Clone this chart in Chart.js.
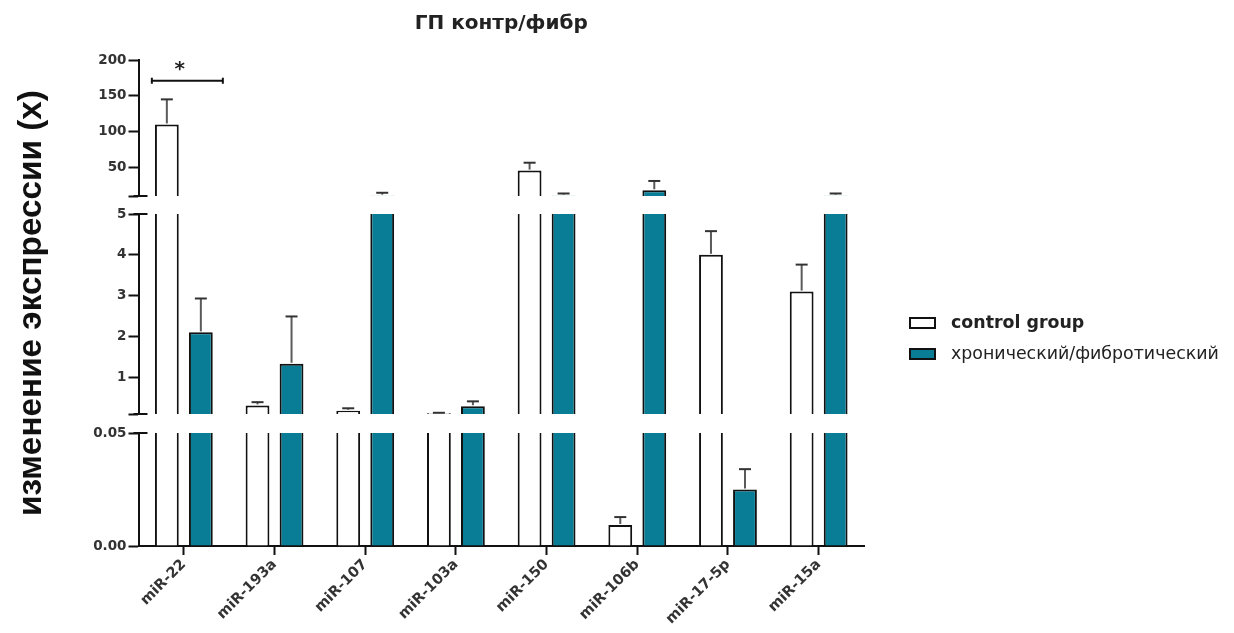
<!DOCTYPE html>
<html>
<head>
<meta charset="utf-8">
<script src="https://cdn.jsdelivr.net/npm/chart.js@4.4.1/dist/chart.umd.min.js"></script>
<style>
  html, body { margin: 0; padding: 0; background: #fff; }
  #wrap { width: 1234px; height: 633px; position: relative; }
</style>
</head>
<body>
<div id="wrap"><canvas id="c" width="1234" height="633"></canvas></div>
<script>
// miRNA panel: fold change of expression, control vs chronic/fibrotic
const categories = ['miR-22', 'miR-193a', 'miR-107', 'miR-103a', 'miR-150', 'miR-106b', 'miR-17-5p', 'miR-15a'];
const seriesNames = ['control group', 'хронический/фибротический'];
const controlMean = [110, 0.31, 0.18, 0.12, 45.5, 0.0093, 4.0, 3.1];
const controlSD   = [35, 0.08, 0.06, 0.01, 11, 0.0035, 0.58, 0.66];
const fibroMean   = [2.1, 1.33, 10.5, 0.29, 10.5, 18, 0.025, 10.5];
const fibroSD     = [0.83, 1.16, 4, 0.12, 3, 13, 0.009, 3];
const topTicks = [10, 50, 100, 150, 200];
const midTicks = [0.1, 1, 2, 3, 4, 5];
const lowTicks = [0, 0.05];
const sigLevel = 171;           // height of the miR-22 significance bracket
const sigText = '*';
const chartTitle = 'ГП контр/фибр';
const yTitle = 'изменение экспрессии (x)';

const means = [controlMean, fibroMean];
const sds = [controlSD, fibroSD];
const fills = ['#ffffff', '#087d95'];
const INK = '#111';
const AXIS_W = 56;

// broken value axis: three segments, top to bottom
const segments = [
  { id: 'yTop', min: 10,  max: 200,  ticks: topTicks, weight: 136, fmt: v => String(v) },
  { id: 'yMid', min: 0.1, max: 5,    ticks: midTicks, weight: 200, fmt: v => String(v) },
  { id: 'yLow', min: 0,   max: 0.05, ticks: lowTicks, weight: 113, fmt: v => v.toFixed(2) }
];
const gaps = [ { id: 'gap1', weight: 18 }, { id: 'gap2', weight: 19 } ];

Chart.defaults.font.family = '"DejaVu Sans", sans-serif';

function segmentData(values, seg) {
  return values.map(v => v > seg.min ? [seg.min, Math.min(v, seg.max)] : null);
}

const datasets = [];
means.forEach((vals, s) => {
  segments.forEach(seg => {
    datasets.push({
      label: seriesNames[s],
      data: segmentData(vals, seg),
      yAxisID: seg.id,
      stack: 's' + s,
      backgroundColor: fills[s],
      borderColor: INK,
      borderSkipped: false,
      borderWidth: ctx => ({ left: 2, right: 2, bottom: 0, top: vals[ctx.dataIndex] > seg.max ? 0 : 2 }),
      categoryPercentage: 0.75,
      barPercentage: 0.7
    });
  });
});

function valueAxis(seg) {
  return {
    type: 'linear', position: 'left', stack: 'v', stackWeight: seg.weight,
    stacked: false, min: seg.min, max: seg.max,
    afterBuildTicks: sc => { sc.ticks = seg.ticks.map(v => ({ value: v })); },
    afterFit: sc => { sc.width = AXIS_W; },
    grid: { drawOnChartArea: false, tickLength: 10, tickWidth: 2, tickColor: INK },
    border: { display: true, width: 2, color: INK },
    ticks: {
      padding: 2, color: '#333', font: { size: 13.5, weight: 'bold' },
      // the lower end of the two upper segments is a break, left unlabeled
      callback: v => (seg.id !== 'yLow' && v === seg.min) ? '' : seg.fmt(v)
    }
  };
}
function gapAxis(g) {
  return {
    type: 'linear', position: 'left', stack: 'v', stackWeight: g.weight, stacked: false,
    afterFit: sc => { sc.width = AXIS_W; },
    grid: { display: false }, border: { display: false }, ticks: { display: false }
  };
}

// stacked left axes are laid out last-defined first, so list them bottom-up
const scales = {
  x: {
    type: 'category', labels: categories, offset: true,
    afterFit: sc => { sc.height = 87; },
    grid: { drawOnChartArea: false, offset: false, tickLength: 9, tickWidth: 2, tickColor: INK },
    border: { display: true, width: 2, color: INK },
    ticks: { autoSkip: false, maxRotation: 45, minRotation: 45, padding: 1, color: '#333', font: { size: 14.5, weight: 'bold' } }
  },
  yLow: valueAxis(segments[2]),
  gap2: gapAxis(gaps[1]),
  yMid: valueAxis(segments[1]),
  gap1: gapAxis(gaps[0]),
  yTop: valueAxis(segments[0])
};

// one-sided SD whiskers, split across the axis segments
const errorBars = {
  id: 'errorBars',
  afterDatasetsDraw(chart) {
    const ctx = chart.ctx;
    ctx.save();
    means.forEach((vals, s) => {
      const meta = chart.getDatasetMeta(s * segments.length + segments.length - 1);
      vals.forEach((v, i) => {
        const top = v + sds[s][i];
        const x = meta.data[i].x;
        segments.forEach(seg => {
          if (top <= seg.min || v >= seg.max) return;
          const sc = chart.scales[seg.id];
          const y0 = sc.getPixelForValue(Math.max(v, seg.min));
          const y1 = sc.getPixelForValue(Math.min(top, seg.max));
          ctx.strokeStyle = '#5a5a5a';
          ctx.lineWidth = 2;
          ctx.beginPath(); ctx.moveTo(x, y0 - 1); ctx.lineTo(x, y1); ctx.stroke();
          if (top <= seg.max) {
            ctx.strokeStyle = '#333';
            ctx.beginPath(); ctx.moveTo(x - 6, y1); ctx.lineTo(x + 6, y1); ctx.stroke();
          }
        });
      });
    });
    ctx.restore();
  }
};

// short marks at the segment breaks, significance bracket, y title, legend
const decorations = {
  id: 'decorations',
  afterDraw(chart) {
    const ctx = chart.ctx;
    const area = chart.chartArea;
    const ax = area.left;
    ctx.save();
    ctx.strokeStyle = INK;
    ctx.lineWidth = 2;
    segments.forEach((seg, k) => {
      const sc = chart.scales[seg.id];
      const ends = [];
      if (k > 0) ends.push(sc.top);
      if (k < segments.length - 1) ends.push(sc.bottom);
      ends.forEach(y => {
        ctx.beginPath(); ctx.moveTo(ax - 5, y); ctx.lineTo(ax + 9, y); ctx.stroke();
      });
    });

    // significance bracket over miR-22
    const xs = chart.scales.x;
    const cx = xs.getPixelForValue(0);
    const by = chart.scales.yTop.getPixelForValue(sigLevel);
    const bl = cx - 32, br = cx + 39;
    ctx.beginPath();
    ctx.moveTo(bl, by); ctx.lineTo(br, by);
    ctx.moveTo(bl, by - 3); ctx.lineTo(bl, by + 3);
    ctx.moveTo(br, by - 3); ctx.lineTo(br, by + 3);
    ctx.stroke();
    ctx.fillStyle = '#222';
    ctx.font = 'bold 20px "DejaVu Sans"';
    ctx.textAlign = 'center';
    ctx.textBaseline = 'middle';
    ctx.fillText(sigText, cx - 4, by - 11);

    // value axis title
    ctx.save();
    ctx.translate(32, (area.top + area.bottom) / 2);
    ctx.rotate(-Math.PI / 2);
    ctx.font = 'bold 33.3px "Liberation Sans"';
    ctx.fillStyle = '#111';
    ctx.fillText(yTitle, 0, 0);
    ctx.restore();

    // legend
    const lx = area.right + 46;
    const rows = [area.top + 263, area.top + 294];
    seriesNames.forEach((name, s) => {
      const y = rows[s];
      ctx.fillStyle = fills[s];
      ctx.fillRect(lx, y - 5, 25, 10);
      ctx.strokeStyle = INK;
      ctx.lineWidth = 2;
      ctx.strokeRect(lx, y - 5, 25, 10);
      ctx.fillStyle = '#222';
      ctx.textAlign = 'left';
      ctx.font = (s === 0 ? 'bold ' : '') + '17.4px "DejaVu Sans"';
      ctx.fillText(name, lx + 41, y);
    });
    ctx.restore();
  }
};

new Chart(document.getElementById('c'), {
  type: 'bar',
  data: { labels: categories, datasets },
  options: {
    responsive: false,
    animation: false,
    devicePixelRatio: 1,
    events: [],
    layout: { padding: { left: 82.5, right: 370, top: 8, bottom: 0 } },
    scales,
    plugins: {
      legend: { display: false },
      tooltip: { enabled: false },
      title: {
        display: true, text: chartTitle, fullSize: false, color: '#222',
        font: { size: 20, weight: 'bold' }, padding: { top: 4, bottom: 24 }
      }
    }
  },
  plugins: [errorBars, decorations]
});
</script>
</body>
</html>
